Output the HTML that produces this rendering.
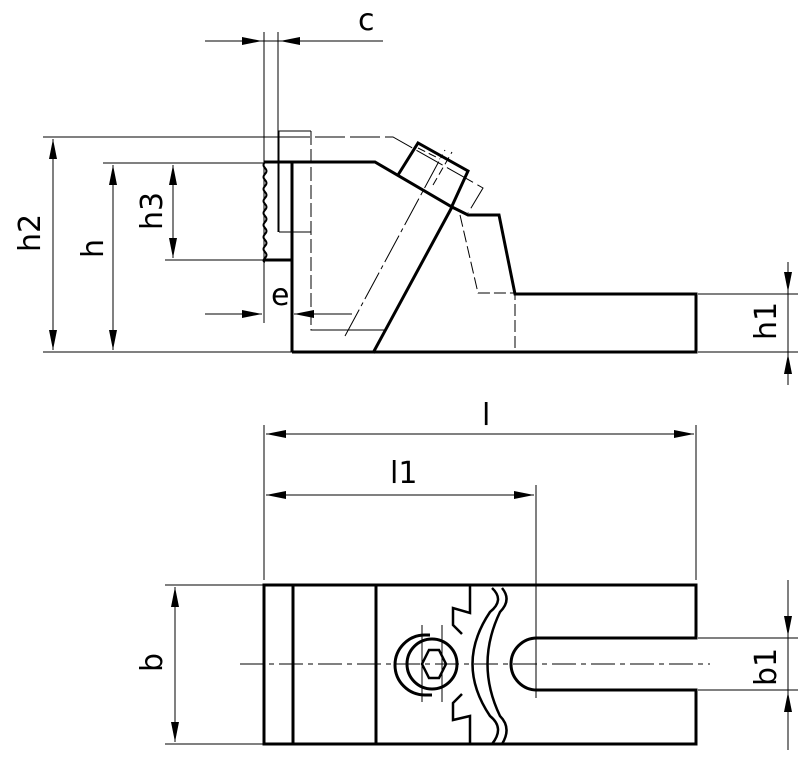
<!DOCTYPE html>
<html><head><style>body{margin:0;background:#fff}svg{display:block}text{font-family:"DejaVu Sans","Liberation Sans",sans-serif;font-size:30px;fill:#000}</style></head>
<body>
<svg width="800" height="758" viewBox="0 0 800 758" xmlns="http://www.w3.org/2000/svg">
<defs>
<marker id="a" viewBox="0 0 20 8" refX="20" refY="4" markerWidth="20" markerHeight="8" markerUnits="userSpaceOnUse" orient="auto"><path d="M0,0L20,4L0,8z"/></marker>
</defs>
<g fill="none" stroke="#000">
<g stroke-width="3">
<path d="M292,352V162H375L452,207L468,215H499L515,294H696V352H292"/>
<path d="M264,162H292V260H264"/>
<path d="M373,353L452,207"/>
<path d="M398,175L418,143L468,171L452,206"/>
</g>
<path d="M265,162q-3,3 0,6q3,3 0,6q-3,3 0,6q3,3 0,6q-3,3 0,6q3,3 0,6q-3,3 0,6q3,3 0,6q-3,3 0,6q3,3 0,6q-3,3 0,6q3,3 0,6q-3,3 0,6q3,3 0,6q-3,3 0,6q3,3 0,6q-3,3 0,4" stroke-width="2"/>
<g stroke-width="1">
<path d="M279,232V131H311"/>
<path d="M279,232H311"/>
<path d="M311,131V330H385" stroke-dasharray="14,4"/>
<path d="M385,330L311,330"/>
<path d="M43,137H280"/>
<path d="M280,137H393L483,188L468,213" stroke-dasharray="30,5"/>
<path d="M418,148L440,159M433,185L452,152" stroke-dasharray="8,4"/>
<path d="M460,215L478,293H515V352" stroke-dasharray="12,4"/>
<path d="M345,336L445,150" stroke-dasharray="30,4,4,4"/>
<path d="M264,32V323M278,32V232"/>
<path d="M205,41H262" marker-end="url(#a)"/><path d="M383,41H280" marker-end="url(#a)"/>
<path d="M262,41H280"/>
<path d="M205,314H262" marker-end="url(#a)"/><path d="M352,314H294" marker-end="url(#a)"/>
<path d="M43,352H292M103,163H264M165,260H264"/>
<path d="M53,245V139" marker-end="url(#a)"/><path d="M53,245V350" marker-end="url(#a)"/>
<path d="M113,258V165" marker-end="url(#a)"/><path d="M113,258V350" marker-end="url(#a)"/>
<path d="M173,212V165" marker-end="url(#a)"/><path d="M173,212V258" marker-end="url(#a)"/>
<path d="M698,294H798M698,352H798"/>
<path d="M788,262V292" marker-end="url(#a)"/><path d="M788,385V354" marker-end="url(#a)"/>
<path d="M788,262V385"/>
<path d="M264,425V580M696,425V580M536,485V698"/>
<path d="M480,434H266" marker-end="url(#a)"/><path d="M480,434H694" marker-end="url(#a)"/>
<path d="M400,495H266" marker-end="url(#a)"/><path d="M400,495H534" marker-end="url(#a)"/>
<path d="M165,585H264M165,744H264"/>
<path d="M175,665V587" marker-end="url(#a)"/><path d="M175,665V742" marker-end="url(#a)"/>
<path d="M698,638H798M698,690H798"/>
<path d="M788,580V636" marker-end="url(#a)"/><path d="M788,750V692" marker-end="url(#a)"/>
<path d="M788,580V750"/>
<path d="M240,664H710" stroke-dasharray="24,5,5,5"/>
<path d="M422,625V702M442,625V702"/>
</g>
<g stroke-width="3">
<path d="M264,585H696V638H537A26,26 0 0 0 537,690H696V744H264Z"/>
<path d="M293,585V744M376,585V744"/>
<circle cx="432" cy="664" r="25"/>
<path d="M430,635H425A30,30 0 0 0 425,695H432"/>
<path d="M429,650h10l7,14l-7,14h-10l-7,-14z" stroke-width="2.5"/>
<path d="M470,585V613L453,608V625L462,634M470,744V716L453,720V703L462,694" stroke-width="2.5"/>
<path d="M492,588Q505,600 490,612Q455,664 490,716Q505,728 492,744" stroke-width="2.5"/>
<path d="M502,588Q512,600 500,612Q475,664 500,716Q512,728 502,744" stroke-width="2.5"/>
</g>
</g>
<text x="358" y="30">c</text>
<text x="271" y="305">e</text>
<text x="482" y="425">l</text>
<text x="390" y="483">l1</text>
<text transform="translate(40,252) rotate(-90)">h2</text>
<text transform="translate(103,258) rotate(-90)">h</text>
<text transform="translate(162,230) rotate(-90)">h3</text>
<text transform="translate(776,340) rotate(-90)">h1</text>
<text transform="translate(162,672) rotate(-90)">b</text>
<text transform="translate(776,686) rotate(-90)">b1</text>
</svg>
</body></html>
